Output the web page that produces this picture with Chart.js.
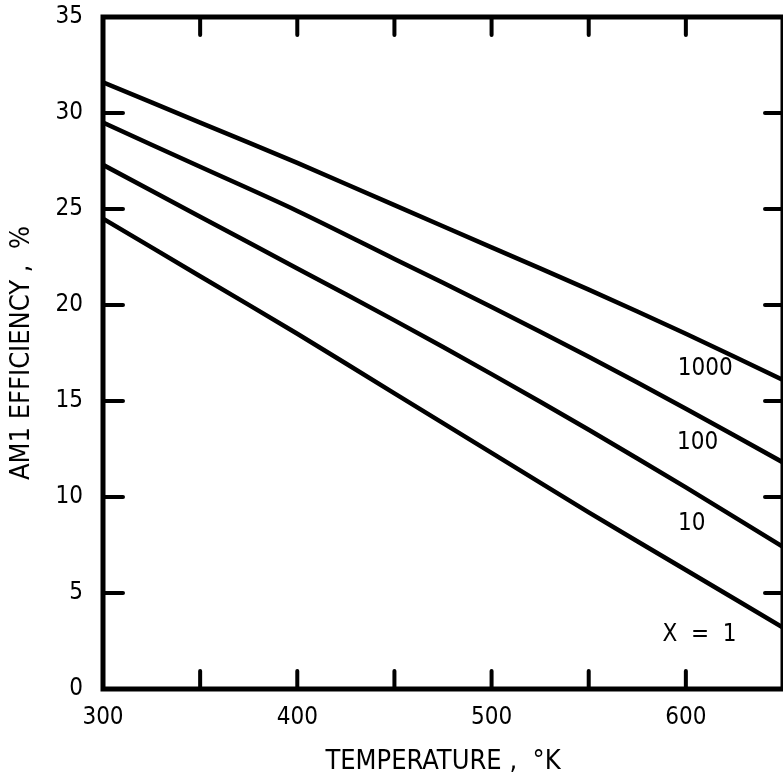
<!DOCTYPE html>
<html>
<head>
<meta charset="utf-8">
<script src="https://cdn.jsdelivr.net/npm/chart.js@4.4.0/dist/chart.umd.min.js"></script>
<style>
  html, body { margin: 0; padding: 0; background: #fff; }
  #wrap { width: 783px; height: 784px; }
</style>
</head>
<body>
<div id="wrap"><canvas id="effChart"></canvas></div>
<script>
// Data
const temperatures = [300, 350, 400, 450, 500, 550, 600, 650];
const eff1000 = [31.6, 29.5, 27.4, 25.2, 23.0, 20.8, 18.5, 16.1];
const eff100  = [29.5, 27.2, 24.9, 22.4, 19.9, 17.3, 14.6, 11.8];
const eff10   = [27.3, 24.6, 21.9, 19.2, 16.4, 13.5, 10.5, 7.4];
const eff1    = [24.5, 21.5, 18.5, 15.4, 12.3, 9.2, 6.2, 3.2];

const xTickLabels = [300, 400, 500, 600];
const xTickMarks = [350, 400, 450, 500, 550, 600];
const yTickLabels = [0, 5, 10, 15, 20, 25, 30, 35];
const yTickMarks = [5, 10, 15, 20, 25, 30];

// Curve labels (concentration X) and where they sit, in data units
const curveNames = ['1000', '100', '10', 'X  =  1'];
const curveLabelT = [610, 606, 603, 607];
const curveLabelEff = [16.7, 12.8, 8.6, 2.8];

const FONT = "'Liberation Sans Narrow', 'DejaVu Sans Condensed', 'Arial Narrow', sans-serif";

function toPoints(ys) {
    return temperatures.map((t, i) => ({ x: t, y: ys[i] }));
}

function lineSet(label, ys) {
    return {
        label: label,
        data: toPoints(ys),
        borderColor: '#000',
        borderWidth: 4.5,
        pointRadius: 0,
        tension: 0.3,
        fill: false
    };
}

// Frame, inward tick marks and curve labels
const framePlugin = {
    id: 'frame',
    afterDraw(chart) {
        const ctx = chart.ctx;
        const a = chart.chartArea;
        const xs = chart.scales.x;
        const ys = chart.scales.y;
        ctx.save();
        ctx.strokeStyle = '#000';
        ctx.lineCap = 'round';

        // tick marks pointing into the plot
        ctx.lineWidth = 4;
        const len = 18;
        xTickMarks.forEach(v => {
            const px = xs.getPixelForValue(v);
            ctx.beginPath();
            ctx.moveTo(px, a.bottom);
            ctx.lineTo(px, a.bottom - len);
            ctx.moveTo(px, a.top);
            ctx.lineTo(px, a.top + len);
            ctx.stroke();
        });
        yTickMarks.forEach(v => {
            const py = ys.getPixelForValue(v);
            ctx.beginPath();
            ctx.moveTo(a.left, py);
            ctx.lineTo(a.left + len + 2, py);
            ctx.moveTo(a.right, py);
            ctx.lineTo(a.right - len, py);
            ctx.stroke();
        });

        // frame
        ctx.lineCap = 'butt';
        ctx.lineWidth = 5;
        ctx.strokeRect(a.left, a.top, a.right - a.left, a.bottom - a.top);

        // curve labels
        ctx.fillStyle = '#000';
        ctx.font = '24px ' + FONT;
        ctx.textAlign = 'center';
        ctx.textBaseline = 'middle';
        curveNames.forEach((name, i) => {
            ctx.fillText(name, xs.getPixelForValue(curveLabelT[i]), ys.getPixelForValue(curveLabelEff[i]));
        });
        ctx.restore();
    }
};

const ctx = document.getElementById('effChart').getContext('2d');
new Chart(ctx, {
    type: 'line',
    data: {
        datasets: [
            lineSet('1000', eff1000),
            lineSet('100', eff100),
            lineSet('10', eff10),
            lineSet('1', eff1)
        ]
    },
    options: {
        responsive: true,
        maintainAspectRatio: false,
        animation: false,
        layout: { padding: { top: 17, left: 0, right: 0, bottom: 0 } },
        plugins: {
            legend: { display: false },
            tooltip: { enabled: false }
        },
        scales: {
            x: {
                type: 'linear',
                min: 300,
                max: 650,
                grid: { display: false },
                border: { display: false },
                afterBuildTicks: scale => { scale.ticks = xTickLabels.map(v => ({ value: v })); },
                afterFit: scale => {
                    scale.height = 95;
                    scale.paddingLeft = 0;
                    scale.paddingRight = 0;
                },
                ticks: {
                    color: '#000',
                    padding: 6,
                    maxRotation: 0,
                    font: { family: FONT, size: 24 }
                },
                title: {
                    display: true,
                    text: 'TEMPERATURE ,  \u00B0K',
                    color: '#000',
                    padding: { top: 0, bottom: 6 },
                    font: { family: FONT, size: 27 }
                }
            },
            y: {
                type: 'linear',
                min: 0,
                max: 35,
                grid: { display: false },
                border: { display: false },
                afterBuildTicks: scale => { scale.ticks = yTickLabels.map(v => ({ value: v })); },
                afterFit: scale => {
                    scale.width = 103;
                    scale.paddingTop = 0;
                    scale.paddingBottom = 0;
                },
                ticks: {
                    color: '#000',
                    padding: 12,
                    font: { family: FONT, size: 24 }
                },
                title: {
                    display: true,
                    text: 'AM1 EFFICIENCY ,  %',
                    color: '#000',
                    padding: { top: 6, bottom: 0 },
                    font: { family: FONT, size: 27 }
                }
            }
        }
    },
    plugins: [framePlugin]
});
</script>
</body>
</html>
